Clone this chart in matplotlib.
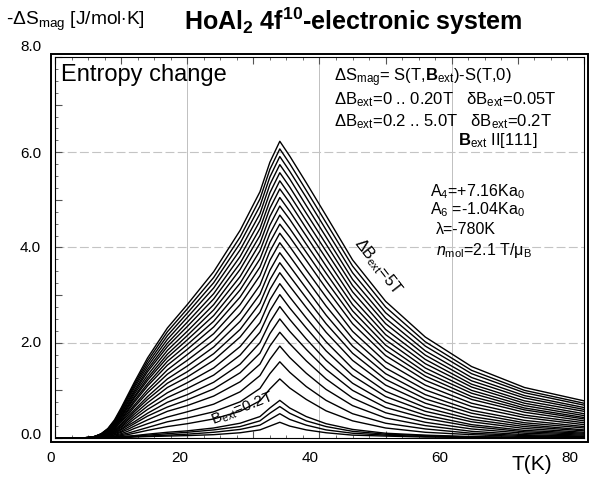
import matplotlib
matplotlib.use("Agg")
import matplotlib.pyplot as plt
from matplotlib.patches import Rectangle
from matplotlib.ticker import MultipleLocator

plt.rcParams['font.family'] = ['Liberation Sans', 'DejaVu Sans']
plt.rcParams['mathtext.fontset'] = 'custom'
plt.rcParams['mathtext.rm'] = 'Liberation Sans'
plt.rcParams['mathtext.it'] = 'Liberation Sans:italic'
plt.rcParams['mathtext.bf'] = 'Liberation Sans:bold'

# temperature points (K) at which the curves were read
temps = [0, 4, 5, 6, 7, 8, 9, 10, 11, 12, 14, 17, 20, 24, 28, 31, 32.5, 34,
         35.5, 38, 41, 45, 50, 56, 63, 71, 80]

# field steps (T): 0.05 .. 0.20 by 0.05, then 0.4 .. 5.0 by 0.2
fields = [0.05, 0.1, 0.15, 0.2, 0.4, 0.6, 0.8, 1.0, 1.2, 1.4, 1.6, 1.8,
          2.0, 2.2, 2.4, 2.6, 2.8, 3.0, 3.2, 3.4, 3.6, 3.8, 4.0, 4.2, 4.4,
          4.6, 4.8, 5.0]

# -dS_mag (J/mol K), one row per field
entropy = [
    [0, 0, 0, 0, 0, 0.00, 0.01, 0.01, 0.01, 0.02, 0.03, 0.04, 0.05, 0.07, 0.11, 0.17, 0.25, 0.33, 0.25, 0.17, 0.11, 0.06, 0.04, 0.02, 0.01, 0.00, 0.00],
    [0, 0, 0, 0, 0, 0.01, 0.01, 0.01, 0.02, 0.03, 0.04, 0.06, 0.08, 0.12, 0.18, 0.27, 0.39, 0.51, 0.39, 0.27, 0.17, 0.10, 0.06, 0.03, 0.02, 0.01, 0.00],
    [0, 0, 0, 0, 0, 0.01, 0.01, 0.02, 0.03, 0.04, 0.06, 0.09, 0.12, 0.17, 0.24, 0.36, 0.52, 0.66, 0.52, 0.36, 0.24, 0.14, 0.08, 0.05, 0.02, 0.01, 0.01],
    [0, 0, 0, 0, 0, 0.01, 0.02, 0.03, 0.04, 0.05, 0.08, 0.12, 0.15, 0.21, 0.31, 0.45, 0.63, 0.79, 0.63, 0.45, 0.30, 0.18, 0.10, 0.06, 0.03, 0.01, 0.01],
    [0, 0, 0, 0, 0.01, 0.02, 0.03, 0.05, 0.07, 0.10, 0.16, 0.24, 0.30, 0.40, 0.56, 0.78, 1.03, 1.24, 1.05, 0.81, 0.57, 0.36, 0.21, 0.12, 0.07, 0.03, 0.02],
    [0, 0, 0, 0, 0.01, 0.02, 0.04, 0.07, 0.10, 0.14, 0.22, 0.34, 0.42, 0.55, 0.76, 1.04, 1.35, 1.60, 1.38, 1.08, 0.79, 0.51, 0.31, 0.19, 0.10, 0.05, 0.03],
    [0, 0, 0, 0.01, 0.01, 0.03, 0.06, 0.09, 0.14, 0.20, 0.30, 0.44, 0.55, 0.71, 0.97, 1.31, 1.65, 1.93, 1.69, 1.36, 1.02, 0.68, 0.42, 0.26, 0.14, 0.07, 0.04],
    [0, 0, 0, 0.01, 0.02, 0.03, 0.07, 0.12, 0.18, 0.25, 0.38, 0.56, 0.68, 0.88, 1.18, 1.55, 1.93, 2.22, 1.98, 1.62, 1.24, 0.84, 0.53, 0.33, 0.19, 0.10, 0.06],
    [0, 0, 0, 0.01, 0.02, 0.05, 0.09, 0.14, 0.22, 0.30, 0.46, 0.65, 0.80, 1.03, 1.37, 1.78, 2.19, 2.50, 2.24, 1.86, 1.44, 1.00, 0.64, 0.41, 0.24, 0.13, 0.08],
    [0, 0, 0, 0.01, 0.02, 0.05, 0.10, 0.17, 0.26, 0.34, 0.52, 0.75, 0.91, 1.17, 1.55, 2.00, 2.43, 2.76, 2.49, 2.08, 1.63, 1.15, 0.75, 0.48, 0.28, 0.16, 0.10],
    [0, 0, 0, 0.01, 0.03, 0.06, 0.12, 0.19, 0.29, 0.40, 0.60, 0.85, 1.04, 1.32, 1.74, 2.22, 2.67, 3.01, 2.73, 2.31, 1.83, 1.31, 0.87, 0.56, 0.34, 0.20, 0.12],
    [0, 0, 0, 0.01, 0.03, 0.07, 0.13, 0.22, 0.33, 0.45, 0.67, 0.95, 1.16, 1.47, 1.92, 2.42, 2.90, 3.24, 2.96, 2.52, 2.02, 1.46, 0.98, 0.64, 0.39, 0.24, 0.15],
    [0, 0, 0, 0.01, 0.04, 0.08, 0.15, 0.24, 0.37, 0.50, 0.74, 1.06, 1.28, 1.63, 2.12, 2.64, 3.12, 3.47, 3.19, 2.74, 2.22, 1.63, 1.11, 0.73, 0.45, 0.28, 0.17],
    [0, 0, 0, 0.01, 0.04, 0.09, 0.16, 0.27, 0.40, 0.55, 0.81, 1.15, 1.39, 1.77, 2.28, 2.83, 3.32, 3.68, 3.40, 2.94, 2.40, 1.78, 1.23, 0.82, 0.52, 0.32, 0.21],
    [0, 0, 0, 0.01, 0.04, 0.10, 0.18, 0.29, 0.44, 0.59, 0.87, 1.24, 1.51, 1.91, 2.45, 3.02, 3.52, 3.89, 3.61, 3.14, 2.58, 1.93, 1.35, 0.91, 0.58, 0.37, 0.24],
    [0, 0, 0, 0.01, 0.05, 0.10, 0.20, 0.33, 0.48, 0.65, 0.95, 1.34, 1.63, 2.05, 2.62, 3.21, 3.73, 4.10, 3.82, 3.34, 2.77, 2.09, 1.47, 1.01, 0.66, 0.43, 0.28],
    [0, 0, 0, 0.02, 0.05, 0.11, 0.21, 0.35, 0.52, 0.69, 1.01, 1.43, 1.75, 2.19, 2.80, 3.41, 3.92, 4.30, 4.02, 3.53, 2.96, 2.24, 1.60, 1.11, 0.73, 0.48, 0.32],
    [0, 0, 0, 0.02, 0.05, 0.12, 0.23, 0.38, 0.56, 0.75, 1.09, 1.53, 1.86, 2.33, 2.96, 3.59, 4.11, 4.49, 4.22, 3.73, 3.14, 2.40, 1.73, 1.21, 0.81, 0.54, 0.36],
    [0, 0, 0, 0.02, 0.06, 0.13, 0.24, 0.40, 0.59, 0.79, 1.14, 1.61, 1.96, 2.45, 3.11, 3.76, 4.29, 4.68, 4.40, 3.90, 3.30, 2.54, 1.84, 1.30, 0.87, 0.59, 0.40],
    [0, 0, 0.01, 0.02, 0.06, 0.14, 0.26, 0.43, 0.63, 0.84, 1.21, 1.69, 2.06, 2.57, 3.25, 3.93, 4.47, 4.87, 4.59, 4.07, 3.46, 2.67, 1.95, 1.38, 0.94, 0.63, 0.43],
    [0, 0, 0.01, 0.03, 0.06, 0.14, 0.27, 0.45, 0.66, 0.87, 1.26, 1.76, 2.15, 2.69, 3.39, 4.09, 4.65, 5.05, 4.76, 4.24, 3.61, 2.80, 2.06, 1.47, 1.00, 0.68, 0.47],
    [0, 0, 0.01, 0.03, 0.07, 0.15, 0.28, 0.47, 0.69, 0.92, 1.32, 1.84, 2.24, 2.80, 3.54, 4.25, 4.82, 5.23, 4.94, 4.40, 3.77, 2.93, 2.17, 1.56, 1.07, 0.73, 0.51],
    [0, 0, 0.01, 0.03, 0.07, 0.16, 0.30, 0.50, 0.73, 0.96, 1.39, 1.92, 2.34, 2.92, 3.67, 4.40, 4.98, 5.40, 5.10, 4.56, 3.92, 3.07, 2.28, 1.65, 1.13, 0.78, 0.56],
    [0, 0, 0.01, 0.03, 0.08, 0.17, 0.31, 0.52, 0.76, 1.00, 1.44, 1.99, 2.43, 3.03, 3.81, 4.56, 5.15, 5.57, 5.27, 4.72, 4.07, 3.20, 2.40, 1.74, 1.20, 0.84, 0.60],
    [0, 0, 0.01, 0.03, 0.08, 0.18, 0.33, 0.55, 0.80, 1.05, 1.50, 2.07, 2.53, 3.15, 3.95, 4.71, 5.32, 5.74, 5.44, 4.88, 4.22, 3.33, 2.51, 1.83, 1.27, 0.89, 0.64],
    [0, 0, 0.01, 0.03, 0.08, 0.18, 0.35, 0.58, 0.84, 1.09, 1.56, 2.15, 2.62, 3.26, 4.09, 4.87, 5.48, 5.91, 5.60, 5.05, 4.37, 3.47, 2.63, 1.93, 1.35, 0.95, 0.69],
    [0, 0, 0.01, 0.03, 0.09, 0.19, 0.36, 0.60, 0.87, 1.13, 1.62, 2.23, 2.71, 3.37, 4.22, 5.02, 5.64, 6.07, 5.76, 5.20, 4.52, 3.61, 2.75, 2.02, 1.42, 1.00, 0.73],
    [0, 0, 0.01, 0.03, 0.09, 0.20, 0.38, 0.63, 0.90, 1.17, 1.68, 2.31, 2.80, 3.49, 4.36, 5.17, 5.79, 6.23, 5.92, 5.36, 4.67, 3.74, 2.87, 2.12, 1.50, 1.06, 0.78],
]

x_labels = ["0", "20", "40", "60", "80"]
x_label_pos = [-0.7, 18.9, 38.6, 58.2, 77.8]
y_labels = ["0.0", "2.0", "4.0", "6.0", "8.0"]
y_label_pos = [0.06, 2.0, 3.98, 5.96, 8.2]

fig = plt.figure(figsize=(5.93, 4.78), dpi=100)
ax = fig.add_axes([0.0927, 0.0837, 0.8921, 0.7971])

for row in entropy:
    ax.plot(temps, row, color="black", lw=1.0)

ax.set_xlim(0, 80)
ax.set_ylim(0, 8)

# grid: solid grey verticals, dashed grey horizontals
for gx in [20, 40, 60]:
    ax.axvline(gx, color="#c0c0c0", lw=0.7, zorder=0)
for gy in [2, 4, 6]:
    ax.axhline(gy, color="#c4c4c4", lw=0.8, ls=(0, (8, 3)), zorder=0)

ax.xaxis.set_major_locator(MultipleLocator(10))
ax.xaxis.set_minor_locator(MultipleLocator(2.5))
ax.yaxis.set_major_locator(MultipleLocator(1))
ax.yaxis.set_minor_locator(MultipleLocator(0.25))
ax.tick_params(which="both", direction="in", top=True, right=False,
               labelbottom=False, labelleft=False, color="#555555")
ax.tick_params(which="major", length=5, width=0.8)
ax.tick_params(which="minor", length=2.5, width=0.6)
for sp in ax.spines.values():
    sp.set_linewidth(0.8)

for lab, pos in zip(x_labels, x_label_pos):
    ax.text(pos, -0.052, lab, transform=ax.get_xaxis_transform(),
            ha="center", va="center", fontsize=11)
for lab, pos in zip(y_labels, y_label_pos):
    ax.text(-0.026, pos, lab, transform=ax.get_yaxis_transform(),
            ha="right", va="center", fontsize=11)

# outer frame
fig.add_artist(Rectangle((0.086, 0.0753), 0.9056, 0.8117,
                         transform=fig.transFigure, fill=False,
                         lw=1.4, ec="black"))

fig.text(0.010, 0.955, r"-ΔS$_{\rm mag}$ [J/mol$\cdot$K]",
         fontsize=13.8, va="center")
fig.text(0.31, 0.955, r"HoAl$_{\mathbf{2}}$ 4f$^{\mathbf{10}}$-electronic system",
         fontsize=18, fontweight="bold", va="center")
fig.text(0.897, 0.028, "T(K)", fontsize=15, ha="center", va="center")

ax.text(0.012, 0.953, "Entropy change", transform=ax.transAxes,
        fontsize=17, va="center")

txt = 12
ax.text(0.527, 0.945, r"ΔS$_{\rm mag}$= S(T,$\mathbf{B}_{\rm ext}$)-S(T,0)",
        transform=ax.transAxes, fontsize=txt, va="center")
ax.text(0.527, 0.887, r"ΔB$_{\rm ext}$=0 .. 0.20T   δB$_{\rm ext}$=0.05T",
        transform=ax.transAxes, fontsize=txt, va="center")
ax.text(0.527, 0.829, r"ΔB$_{\rm ext}$=0.2 .. 5.0T   δB$_{\rm ext}$=0.2T",
        transform=ax.transAxes, fontsize=txt, va="center")
ax.text(0.762, 0.782, r"$\mathbf{B}_{\rm ext}$ II[111]",
        transform=ax.transAxes, fontsize=txt, va="center")

par = 11.5
ax.text(0.708, 0.646, r"A$_4$=+7.16Ka$_0$", transform=ax.transAxes,
        fontsize=par, va="center")
ax.text(0.708, 0.598, r"A$_6$ =-1.04Ka$_0$", transform=ax.transAxes,
        fontsize=par, va="center")
ax.text(0.720, 0.546, "λ=-780K", transform=ax.transAxes,
        fontsize=par, va="center")
ax.text(0.720, 0.493, r"$n_{\rm mol}$=2.1 T/μ$_{\rm B}$", transform=ax.transAxes,
        fontsize=par, va="center")

ax.text(48.8, 3.6, r"ΔB$_{\rm ext}$=5T", rotation=-52,
        fontsize=11.5, ha="center", va="center")
ax.text(28.4, 0.60, r"B$_{\rm ext}$=0.2T", rotation=22,
        fontsize=11, ha="center", va="center")

fig.savefig("out.png", dpi=100)
